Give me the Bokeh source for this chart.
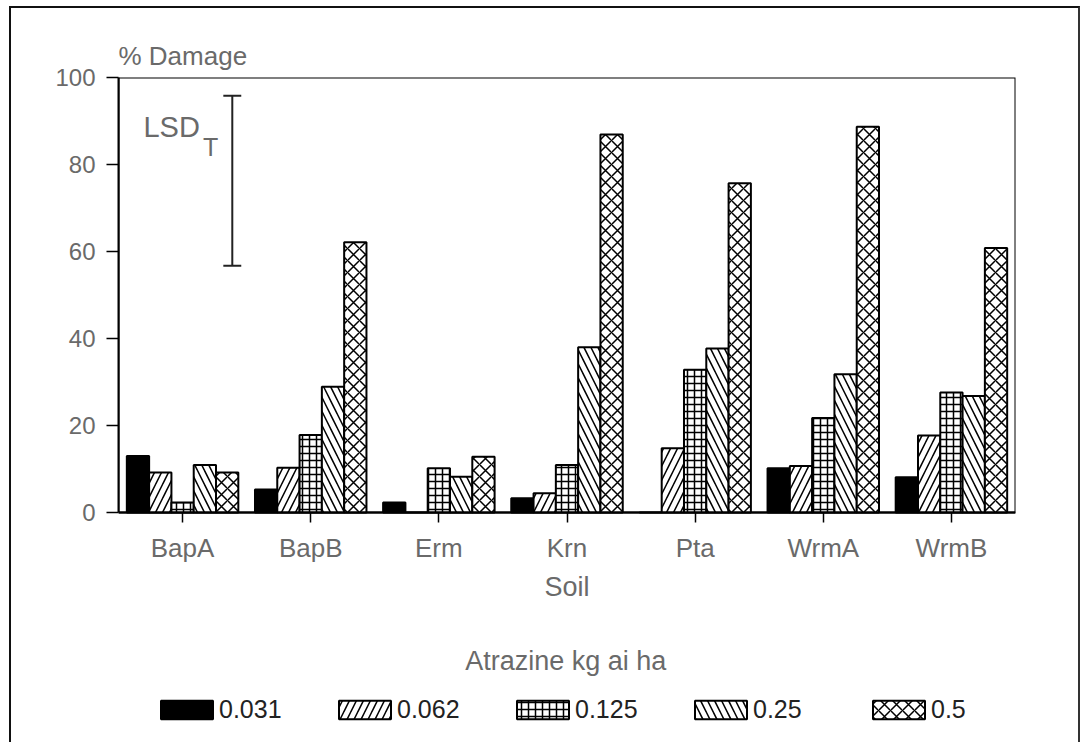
from bokeh.plotting import figure
from bokeh.models import (ColumnDataSource, FactorRange, Range1d, Legend, LegendItem,
                          BoxAnnotation)
from bokeh.transform import dodge
from bokeh.core.properties import value
from bokeh.embed import file_html
from bokeh.resources import INLINE

# ---- data ----
soils = ["BapA", "BapB", "Erm", "Krn", "Pta", "WrmA", "WrmB"]
rates = ["0.031", "0.062", "0.125", "0.25", "0.5"]
dmg_0031 = [13.0, 5.3, 2.3, 3.3, 0.0, 10.2, 8.1]
dmg_0062 = [9.2, 10.3, 0.0, 4.4, 14.8, 10.7, 17.7]
dmg_0125 = [2.3, 17.8, 10.2, 10.9, 32.8, 21.7, 27.6]
dmg_025 = [10.9, 28.9, 8.2, 38.0, 37.7, 31.8, 26.8]
dmg_05 = [9.2, 62.1, 12.8, 86.9, 75.7, 88.7, 60.8]
y_ticks = [0, 20, 40, 60, 80, 100]
lsd_top = [95.8]
lsd_bottom = [56.7]

FONT = "Liberation Sans Narrow, Liberation Sans, sans-serif"
GRAY = "#6a6a6a"

# The frame reaches down to the legend; the value axis covers 0-100 only.
p = figure(
    x_range=FactorRange(*soils),
    y_range=Range1d(-52.87, 100),
    frame_width=897, frame_height=665,
    min_border_left=107, min_border_right=63,
    min_border_top=69, min_border_bottom=0,
    output_backend="svg", toolbar_location=None,
    background_fill_color="white", border_fill_color="white",
)
p.styles = {"margin-left": "9px", "margin-top": "6px",
            "border-left": "2px solid #111", "border-top": "2px solid #111",
            "border-right": "2px solid #333"}
p.outline_line_color = None

src = ColumnDataSource(dict(soil=soils, r1=dmg_0031, r2=dmg_0062, r3=dmg_0125,
                            r4=dmg_025, r5=dmg_05))

# box around the 0-100 plotting area
p.add_layout(BoxAnnotation(bottom=0, top=100, fill_alpha=0, line_color="black",
                           line_alpha=1.0, line_width=2, level="underlay"))

w = 0.174
cols = ["r1", "r2", "r3", "r4", "r5"]
fills = ["black", "white", "white", "white", "white"]
hatches = [" ", "/", "+", "\\", "x"]
scales = [10, 14, 7, 14, 12]
renderers = []
for i, c in enumerate(cols):
    r = p.vbar(x=dodge("soil", (i - 2) * w, range=p.x_range), top=c, width=w,
               source=src, fill_color=fills[i], line_color="black", line_width=2,
               hatch_pattern=hatches[i], hatch_color="black", hatch_weight=1.5,
               hatch_scale=scales[i])
    renderers.append(r)

# LSD bar
lsd = ColumnDataSource(dict(x=["BapA"], top=lsd_top, bottom=lsd_bottom))
lx = 0.388
p.segment(x0=dodge("x", lx, range=p.x_range), x1=dodge("x", lx, range=p.x_range),
          y0="bottom", y1="top", source=lsd, line_color="#222", line_width=2)
p.segment(x0=dodge("x", lx - 0.07, range=p.x_range), x1=dodge("x", lx + 0.07, range=p.x_range),
          y0="top", y1="top", source=lsd, line_color="#222", line_width=2)
p.segment(x0=dodge("x", lx - 0.07, range=p.x_range), x1=dodge("x", lx + 0.07, range=p.x_range),
          y0="bottom", y1="bottom", source=lsd, line_color="#222", line_width=2)
lsd_txt = ColumnDataSource(dict(x=["BapA"], y=[88.7], t=["LSD"]))
p.text(x=dodge("x", -0.305, range=p.x_range), y="y", text="t", source=lsd_txt,
       text_font=value(FONT), text_font_size="29px", text_color=GRAY,
       text_baseline="alphabetic", text_align="left")
sub_txt = ColumnDataSource(dict(x=["BapA"], y=[84.0], t=["T"]))
p.text(x=dodge("x", 0.16, range=p.x_range), y="y", text="t", source=sub_txt,
       text_font=value(FONT), text_font_size="25px", text_color=GRAY,
       text_baseline="alphabetic", text_align="left")

# legend heading
head = ColumnDataSource(dict(x=["Krn"], y=[-34.1], t=["Atrazine kg ai ha"]))
p.text(x=dodge("x", -0.01, range=p.x_range), y="y", text="t", source=head,
       text_font=value(FONT), text_font_size="27px", text_color=GRAY,
       text_baseline="middle", text_align="center")

# title
p.title.text = "% Damage"
p.title.align = "left"
p.title.text_font = FONT
p.title.text_font_size = "26px"
p.title.text_font_style = "normal"
p.title.text_color = GRAY
p.title.standoff = 14

# axes
p.xgrid.visible = False
p.ygrid.visible = False

p.yaxis.ticker = y_ticks
p.yaxis.bounds = (0, 100)
p.yaxis.major_tick_out = 12
p.yaxis.major_tick_in = 0
p.yaxis.minor_tick_out = 0
p.yaxis.minor_tick_in = 0
p.yaxis.axis_line_width = 2
p.yaxis.major_tick_line_width = 1.5
p.yaxis.major_label_text_font = FONT
p.yaxis.major_label_text_font_size = "24px"
p.yaxis.major_label_text_color = GRAY
p.yaxis.major_label_standoff = 11

p.xaxis.fixed_location = 0
p.xaxis.major_tick_out = 10
p.xaxis.major_tick_in = 0
p.xaxis.axis_line_width = 2
p.xaxis.major_tick_line_width = 1.5
p.xaxis.major_label_text_font = FONT
p.xaxis.major_label_text_font_size = "26px"
p.xaxis.major_label_text_color = GRAY
p.xaxis.major_label_standoff = 10
p.xaxis.axis_label = "Soil"
p.xaxis.axis_label_text_font = FONT
p.xaxis.axis_label_text_font_size = "27px"
p.xaxis.axis_label_text_font_style = "normal"
p.xaxis.axis_label_text_color = GRAY
p.xaxis.axis_label_standoff = 6

legend = Legend(items=[LegendItem(label=rates[i], renderers=[renderers[i]]) for i in range(5)],
                orientation="horizontal", location=(36, 18),
                glyph_width=65, glyph_height=23, label_standoff=0,
                spacing=50, label_width=63,
                label_text_font=FONT, label_text_font_size="25px",
                label_text_color="#222",
                border_line_alpha=0, background_fill_alpha=0,
                margin=0, padding=0)
p.add_layout(legend, "center")

open("out.html", "w").write(file_html(p, INLINE))
